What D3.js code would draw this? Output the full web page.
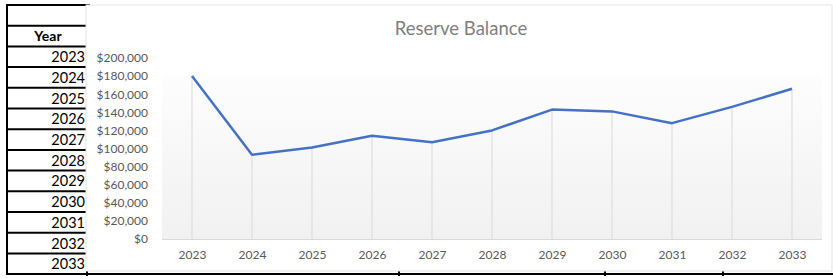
<!DOCTYPE html>
<html>
<head>
<meta charset="utf-8">
<script src="https://cdn.jsdelivr.net/npm/d3@7"></script>
<style>
  body { margin: 0; background: #fff; }
  svg { display: block; }
</style>
</head>
<body>
<div id="chart"></div>
<script>
// Data
const years = ["2023", "2024", "2025", "2026", "2027", "2028", "2029", "2030", "2031", "2032", "2033"];
const balance = [180000, 93000, 101000, 114000, 107000, 120000, 143000, 141000, 128000, 146000, 166000];
const yTicks = [0, 20000, 40000, 60000, 80000, 100000, 120000, 140000, 160000, 180000, 200000];
const chartTitle = "Reserve Balance";
const sheetHeader = "Year";

const width = 833;
const height = 279;

const svg = d3
  .select("#chart")
  .append("svg")
  .attr("width", width)
  .attr("height", height);

// Spreadsheet column behind the chart
const rowTop = 5;
const rowH = 20.7;
const nRows = years.length + 2;
const sheet = svg.append("g");
d3.range(nRows + 1).forEach((i) => {
  sheet
    .append("line")
    .attr("x1", 6)
    .attr("x2", i === nRows ? width : 90)
    .attr("y1", rowTop + i * rowH)
    .attr("y2", rowTop + i * rowH)
    .attr("stroke", "#000")
    .attr("stroke-width", 2);
});
sheet
  .append("line")
  .attr("x1", 7)
  .attr("x2", 7)
  .attr("y1", rowTop)
  .attr("y2", rowTop + nRows * rowH)
  .attr("stroke", "#000")
  .attr("stroke-width", 2);
// column borders peeking under the chart
[87, 399, 605, 723].forEach((x) => {
  sheet
    .append("line")
    .attr("x1", x)
    .attr("x2", x)
    .attr("y1", 268)
    .attr("y2", 276)
    .attr("stroke", "#000")
    .attr("stroke-width", 2);
});
sheet
  .append("text")
  .attr("x", 48)
  .attr("y", rowTop + rowH * 1.5)
  .attr("dy", "0.35em")
  .attr("text-anchor", "middle")
  .attr("font-family", "Lato, sans-serif")
  .attr("font-weight", "bold")
  .attr("font-size", 14)
  .text(sheetHeader);
sheet
  .selectAll(".yr")
  .data(years)
  .enter()
  .append("text")
  .attr("class", "yr")
  .attr("x", 85)
  .attr("y", (d, i) => rowTop + rowH * (i + 2.5))
  .attr("dy", "0.38em")
  .attr("text-anchor", "end")
  .attr("font-family", "Lato, sans-serif")
  .attr("font-size", 14.5)
  .text((d) => d);

// Chart area
const chartBox = { x: 86, y: 5, w: 746, h: 266 };
svg
  .append("rect")
  .attr("x", chartBox.x)
  .attr("y", chartBox.y)
  .attr("width", chartBox.w)
  .attr("height", chartBox.h)
  .attr("fill", "#fff")
  .attr("stroke", "#e3e3e3")
  .attr("stroke-width", 1);

const plot = { left: 162, right: 822, top: 58, bottom: 239 };

const x = d3
  .scalePoint()
  .domain(years)
  .range([plot.left, plot.right])
  .padding(0.5);

const y = d3
  .scaleLinear()
  .domain([0, 200000])
  .range([plot.bottom, plot.top]);

// Plot area gradient
const defs = svg.append("defs");
const grad = defs
  .append("linearGradient")
  .attr("id", "plotFill")
  .attr("x1", 0)
  .attr("y1", 0)
  .attr("x2", 0)
  .attr("y2", 1);
grad.append("stop").attr("offset", "0%").attr("stop-color", "#ffffff");
grad.append("stop").attr("offset", "9%").attr("stop-color", "#ffffff");
grad.append("stop").attr("offset", "11%").attr("stop-color", "#fdfdfd");
grad.append("stop").attr("offset", "100%").attr("stop-color", "#f1f1f1");

svg
  .append("rect")
  .attr("x", plot.left)
  .attr("y", plot.top)
  .attr("width", plot.right - plot.left)
  .attr("height", plot.bottom - plot.top)
  .attr("fill", "url(#plotFill)");

// Title
svg
  .append("text")
  .attr("x", 461)
  .attr("y", 29)
  .attr("dy", "0.35em")
  .attr("text-anchor", "middle")
  .attr("font-family", "Lato, sans-serif")
  .attr("font-size", 18.5)
  .attr("fill", "#7f7f7f")
  .text(chartTitle);

// Y axis
const yAxis = d3
  .axisLeft(y)
  .tickValues(yTicks)
  .tickSize(0)
  .tickPadding(14)
  .tickFormat((d) => "$" + d3.format(",")(d));
svg
  .append("g")
  .attr("transform", `translate(${plot.left},0)`)
  .call(yAxis)
  .call((g) => g.select(".domain").remove())
  .call((g) =>
    g
      .selectAll("text")
      .attr("fill", "#595959")
      .attr("font-family", "Lato, sans-serif")
      .attr("font-size", 12)
  );

// X axis
const xAxis = d3.axisBottom(x).tickSize(0).tickPadding(11);
svg
  .append("g")
  .attr("transform", `translate(0,${plot.bottom})`)
  .call(xAxis)
  .call((g) => g.select(".domain").remove())
  .call((g) =>
    g
      .selectAll("text")
      .attr("fill", "#595959")
      .attr("font-family", "Lato, sans-serif")
      .attr("font-size", 12)
  );

// Drop lines
svg
  .selectAll(".drop")
  .data(years)
  .enter()
  .append("line")
  .attr("class", "drop")
  .attr("x1", (d) => x(d))
  .attr("x2", (d) => x(d))
  .attr("y1", (d, i) => y(balance[i]))
  .attr("y2", plot.bottom)
  .attr("stroke", "#d9d9d9")
  .attr("stroke-width", 1);

// Baseline
svg
  .append("line")
  .attr("x1", plot.left)
  .attr("x2", plot.right)
  .attr("y1", plot.bottom + 0.5)
  .attr("y2", plot.bottom + 0.5)
  .attr("stroke", "#d9d9d9")
  .attr("stroke-width", 1);

// Line
const line = d3
  .line()
  .x((d, i) => x(years[i]))
  .y((d) => y(d));
svg
  .append("path")
  .datum(balance)
  .attr("d", line)
  .attr("fill", "none")
  .attr("stroke", "#4472c4")
  .attr("stroke-width", 2.5)
  .attr("stroke-linejoin", "round");
</script>
</body>
</html>
